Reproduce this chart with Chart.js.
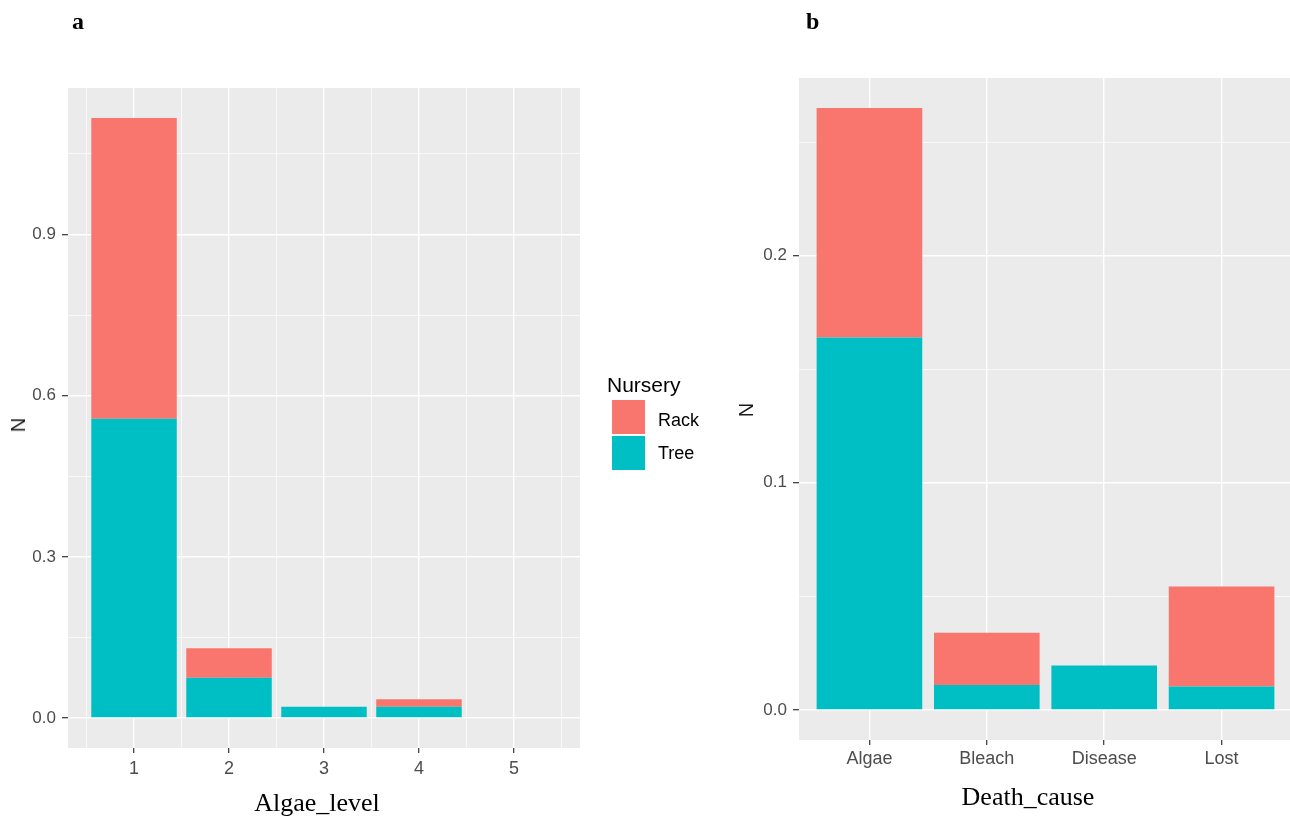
<!DOCTYPE html>
<html>
<head>
<meta charset="utf-8">
<script src="https://cdn.jsdelivr.net/npm/chart.js@4.4.1/dist/chart.umd.min.js"></script>
<style>
  html, body { margin:0; padding:0; background:#ffffff; width:1290px; height:822px; overflow:hidden; position:relative; }
  canvas { position:absolute; top:0; }
  .lab { position:absolute; white-space:nowrap; line-height:1; }
  .letter { font-family:"Liberation Serif", serif; font-weight:bold; font-size:24px; color:#000; }
  .xtitle { font-family:"Liberation Serif", "Times New Roman", serif; font-size:26px; color:#000; transform:translateX(-50%); }
  .ytitle { font-family:"Liberation Sans", Arial, sans-serif; font-size:20px; color:#1a1a1a; transform:translate(-50%,-50%) rotate(-90deg); }
  .legtitle { font-family:"Liberation Sans", Arial, sans-serif; font-size:21px; color:#000; }
  .legtext { font-family:"Liberation Sans", Arial, sans-serif; font-size:18px; color:#000; }
  .key { position:absolute; width:33px; height:34px; }
</style>
</head>
<body>
<canvas id="ca" width="600" height="822" style="left:0px"></canvas>
<canvas id="cb" width="600" height="822" style="left:720px"></canvas>

<div class="lab letter" style="left:72px; top:9px;">a</div>
<div class="lab letter" style="left:806px; top:9px;">b</div>

<div class="lab xtitle" style="left:317px; top:790px;">Algae_level</div>
<div class="lab xtitle" style="left:1028px; top:784px;">Death_cause</div>
<div class="lab ytitle" style="left:18px; top:425px;">N</div>
<div class="lab ytitle" style="left:746px; top:410px;">N</div>

<div class="lab legtitle" style="left:607px; top:374px;">Nursery</div>
<div class="key" style="left:612px; top:400px; background:#F8766D;"></div>
<div class="key" style="left:612px; top:436px; background:#00BFC4;"></div>
<div class="lab legtext" style="left:658px; top:411px;">Rack</div>
<div class="lab legtext" style="left:658px; top:444px;">Tree</div>

<script>
// ---------- Data ----------
const nurseries = ["Rack", "Tree"];
const nurseryColors = ["#F8766D", "#00BFC4"];

// Panel a: Algae_level
const algaeLevels = [1, 2, 3, 4, 5];
const algaeRack   = [0.560, 0.055, 0.000, 0.014, 0.000];
const algaeTree   = [0.557, 0.075, 0.021, 0.021, 0.000];
const algaeYMajor = [0.0, 0.3, 0.6, 0.9];
const algaeYMinor = [0.15, 0.45, 0.75, 1.05];
const algaeXMajor = [1, 2, 3, 4, 5];
const algaeXMinor = [0.5, 1.5, 2.5, 3.5, 4.5, 5.5];

// Panel b: Death_cause
const deathCauses = ["Algae", "Bleach", "Disease", "Lost"];
const deathRack   = [0.101, 0.023, 0.000, 0.044];
const deathTree   = [0.164, 0.011, 0.0195, 0.0103];
const deathYMajor = [0.0, 0.1, 0.2];
const deathYMinor = [0.05, 0.15, 0.25];

// ---------- Helpers ----------
const bgPlugin = {
  id: 'panelBg',
  beforeDraw(chart) {
    const {ctx, chartArea: a} = chart;
    ctx.save();
    ctx.fillStyle = '#EBEBEB';
    ctx.fillRect(a.left, a.top, a.right - a.left, a.bottom - a.top);
    ctx.restore();
  }
};

const tickColor = '#4D4D4D';
const fam = '"Liberation Sans", Arial, sans-serif';

function isIn(arr, v) { return arr.some(m => Math.abs(m - v) < 1e-9); }
function minStep(arr) {
  const s = arr.slice().sort((p, q) => p - q);
  let m = Infinity;
  for (let i = 1; i < s.length; i++) m = Math.min(m, s[i] - s[i - 1]);
  return m;
}

function makeYAxis(major, minor, min, max, width) {
  const all = major.concat(minor).sort((p, q) => p - q);
  return {
    type: 'linear', stacked: true, min: min, max: max,
    afterBuildTicks(s) { s.ticks = all.map(v => ({ value: v })); },
    afterFit(s) { s.width = width; },
    border: { display: false },
    grid: {
      color: '#FFFFFF',
      lineWidth: c => isIn(major, c.tick.value) ? 1.4 : 0.7,
      tickColor: c => isIn(major, c.tick.value) ? '#333333' : 'rgba(0,0,0,0)',
      tickLength: 6, tickWidth: 1.2
    },
    ticks: {
      autoSkip: false, color: tickColor, font: { family: fam, size: 17 }, padding: 6,
      callback: v => isIn(major, v) ? Number(v).toFixed(1) : ''
    },
    title: { display: false }
  };
}

function makeXAxis(major, minor, min, max, height, labelFn, pad) {
  const all = major.concat(minor).sort((p, q) => p - q);
  return {
    type: 'linear', stacked: true, min: min, max: max, offset: false,
    afterBuildTicks(s) { s.ticks = all.map(v => ({ value: v })); },
    afterFit(s) { s.height = height; },
    border: { display: false },
    grid: {
      color: '#FFFFFF', offset: false,
      lineWidth: c => isIn(major, c.tick.value) ? 1.4 : 0.7,
      tickColor: c => isIn(major, c.tick.value) ? '#333333' : 'rgba(0,0,0,0)',
      tickLength: 5, tickWidth: 1.2
    },
    ticks: {
      autoSkip: false, maxRotation: 0, minRotation: 0, color: tickColor, font: { family: fam, size: 18 }, padding: pad,
      callback: v => isIn(major, v) ? labelFn(v) : ''
    },
    title: { display: false }
  };
}

function barDatasets(xs, rack, tree, xTicks) {
  // bar width = 0.9 of the data spacing; Chart.js measures against the smallest tick/data gap
  const dataStep = minStep(xs);
  const gap = Math.min(dataStep, minStep(xTicks));
  const bp = dataStep / gap;
  // Tree stacked first (bottom), Rack on top
  return [
    { label: nurseries[1], data: xs.map((x, i) => ({ x: x, y: tree[i] })), backgroundColor: nurseryColors[1], borderWidth: 0, categoryPercentage: 0.9, barPercentage: bp },
    { label: nurseries[0], data: xs.map((x, i) => ({ x: x, y: rack[i] })), backgroundColor: nurseryColors[0], borderWidth: 0, categoryPercentage: 0.9, barPercentage: bp }
  ];
}

const commonPlugins = { legend: { display: false }, tooltip: { enabled: false } };

// ---------- Panel a ----------
const maxA = Math.max(...algaeRack.map((r, i) => r + algaeTree[i]));
new Chart(document.getElementById('ca'), {
  type: 'bar',
  data: { datasets: barDatasets(algaeLevels, algaeRack, algaeTree, algaeXMajor.concat(algaeXMinor)) },
  options: {
    responsive: false, animation: false, devicePixelRatio: 1,
    layout: { padding: { top: 88, right: 20, left: 0, bottom: 0 } },
    plugins: commonPlugins,
    scales: {
      x: makeXAxis(algaeXMajor, algaeXMinor, 0.305, 5.695, 74, v => String(v), 5),
      y: makeYAxis(algaeYMajor, algaeYMinor, -0.05 * maxA, 1.05 * maxA, 68)
    }
  },
  plugins: [bgPlugin]
});

// ---------- Panel b ----------
const maxB = Math.max(...deathRack.map((r, i) => r + deathTree[i]));
const deathX = deathCauses.map((c, i) => i + 1);
new Chart(document.getElementById('cb'), {
  type: 'bar',
  data: { datasets: barDatasets(deathX, deathRack, deathTree, deathX) },
  options: {
    responsive: false, animation: false, devicePixelRatio: 1,
    layout: { padding: { top: 78, right: 28, left: 0, bottom: 0 } },
    plugins: commonPlugins,
    scales: {
      x: makeXAxis(deathX, [], 0.4, 4.6, 82, v => deathCauses[Math.round(v) - 1], 3),
      y: makeYAxis(deathYMajor, deathYMinor, -0.05 * maxB, 1.05 * maxB, 79)
    }
  },
  plugins: [bgPlugin]
});
</script>
</body>
</html>
